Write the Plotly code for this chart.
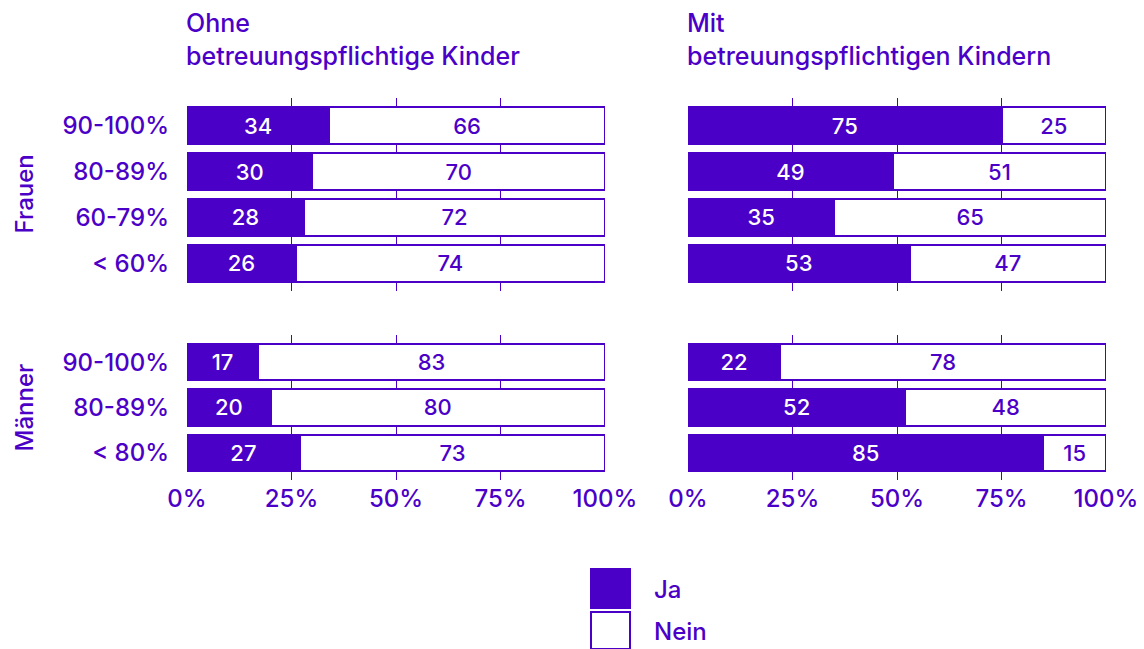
import plotly.graph_objects as go

# Data
frauen_cats = ["90-100%", "80-89%", "60-79%", "< 60%"]
maenner_cats = ["90-100%", "80-89%", "< 80%"]

frauen_ohne_ja = [34, 30, 28, 26]
frauen_ohne_nein = [66, 70, 72, 74]
frauen_mit_ja = [75, 49, 35, 53]
frauen_mit_nein = [25, 51, 65, 47]

maenner_ohne_ja = [17, 20, 27]
maenner_ohne_nein = [83, 80, 73]
maenner_mit_ja = [22, 52, 85]
maenner_mit_nein = [78, 48, 15]

x_ticks = [0, 25, 50, 75, 100]
x_ticktext = ["0%", "25%", "50%", "75%", "100%"]

PURPLE = "#4b00c8"
FONT = "Inter"

# page body has an 8px margin, so the figure is a bit smaller and offset
OFF = 8
W, H = 1144 - OFF, 649 - OFF


def px_x(p):
    return (p - OFF) / W


def px_y(p):
    return 1 - (p - OFF) / H


def font(size, color=PURPLE):
    return dict(size=size, color=color, family=FONT, weight=500)


fig = go.Figure()

panels = [
    (frauen_cats, frauen_ohne_ja, frauen_ohne_nein, "x", "y"),
    (frauen_cats, frauen_mit_ja, frauen_mit_nein, "x2", "y2"),
    (maenner_cats, maenner_ohne_ja, maenner_ohne_nein, "x3", "y3"),
    (maenner_cats, maenner_mit_ja, maenner_mit_nein, "x4", "y4"),
]

for cats, ja, nein, xa, ya in panels:
    fig.add_trace(go.Bar(
        y=cats, x=ja, orientation="h", xaxis=xa, yaxis=ya,
        name="Ja", showlegend=False,
        marker=dict(color=PURPLE, line=dict(color=PURPLE, width=2)),
        text=ja, textposition="inside", insidetextanchor="middle",
        textangle=0, constraintext="none",
        textfont=font(22, "white"),
        hoverinfo="skip",
    ))
    fig.add_trace(go.Bar(
        y=cats, x=nein, orientation="h", xaxis=xa, yaxis=ya,
        name="Nein", showlegend=False,
        marker=dict(color="white", line=dict(color=PURPLE, width=2)),
        text=nein, textposition="inside", insidetextanchor="middle",
        textangle=0, constraintext="none",
        textfont=font(22),
        hoverinfo="skip",
    ))

xl = [px_x(187), px_x(605)]
xr = [px_x(688), px_x(1106)]
yt = [px_y(291), px_y(98)]
yb = [px_y(480), px_y(335)]

xcommon = dict(range=[0, 100], tickvals=x_ticks, ticktext=x_ticktext,
               showgrid=True, gridcolor=PURPLE, gridwidth=1, zeroline=False,
               showline=False, fixedrange=True, automargin=False,
               tickfont=font(24))
ycommon = dict(showgrid=False, zeroline=False, showline=False,
               automargin=False, ticklabelstandoff=17,
               tickfont=font(24))

fig.update_layout(
    width=W, height=H,
    margin=dict(l=0, r=0, t=0, b=0),
    paper_bgcolor="white", plot_bgcolor="white",
    barmode="stack", bargap=0.2,
    showlegend=False,
    font=dict(family=FONT, color=PURPLE),
    xaxis=dict(domain=xl, anchor="y", showticklabels=False, **xcommon),
    xaxis2=dict(domain=xr, anchor="y2", showticklabels=False, **xcommon),
    xaxis3=dict(domain=xl, anchor="y3", ticklabelstandoff=2, **xcommon),
    xaxis4=dict(domain=xr, anchor="y4", ticklabelstandoff=2, **xcommon),
    yaxis=dict(domain=yt, anchor="x", range=[3.6, -0.6], **ycommon),
    yaxis2=dict(domain=yt, anchor="x2", range=[3.6, -0.6], showticklabels=False, **ycommon),
    yaxis3=dict(domain=yb, anchor="x3", range=[2.6, -0.6], **ycommon),
    yaxis4=dict(domain=yb, anchor="x4", range=[2.6, -0.6], showticklabels=False, **ycommon),
)

# Column titles
fig.add_annotation(x=px_x(184), y=px_y(6), xref="paper", yref="paper",
                   xanchor="left", yanchor="top", align="left", showarrow=False,
                   text="Ohne<br>betreuungspflichtige Kinder", font=font(25))
fig.add_annotation(x=px_x(685), y=px_y(6), xref="paper", yref="paper",
                   xanchor="left", yanchor="top", align="left", showarrow=False,
                   text="Mit<br>betreuungspflichtigen Kindern", font=font(25))

# Row labels
fig.add_annotation(x=px_x(8), y=px_y(194), xref="paper", yref="paper",
                   xanchor="left", yanchor="middle", borderpad=0,
                   textangle=-90, showarrow=False, text="Frauen", font=font(24))
fig.add_annotation(x=px_x(8), y=px_y(408), xref="paper", yref="paper",
                   xanchor="left", yanchor="middle", borderpad=0,
                   textangle=-90, showarrow=False, text="Männer", font=font(24))

# Legend (large swatches)
fig.add_shape(type="rect", xref="paper", yref="paper",
              x0=px_x(591), x1=px_x(630), y0=px_y(608), y1=px_y(569),
              fillcolor=PURPLE, line=dict(color=PURPLE, width=2))
fig.add_shape(type="rect", xref="paper", yref="paper",
              x0=px_x(591), x1=px_x(630), y0=px_y(649), y1=px_y(612),
              fillcolor="white", line=dict(color=PURPLE, width=2))
fig.add_annotation(x=px_x(652), y=px_y(589), xref="paper", yref="paper",
                   xanchor="left", yanchor="middle", showarrow=False,
                   text="Ja", font=font(24))
fig.add_annotation(x=px_x(652), y=px_y(631), xref="paper", yref="paper",
                   xanchor="left", yanchor="middle", showarrow=False,
                   text="Nein", font=font(24))

fig.write_html("out.html")
